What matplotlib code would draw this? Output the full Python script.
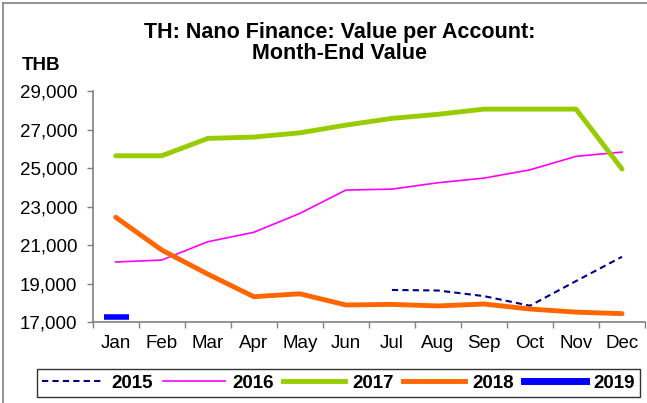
import matplotlib.pyplot as plt
from matplotlib.lines import Line2D

plt.rcParams['font.family'] = ['Liberation Sans', 'DejaVu Sans']

months = ['Jan', 'Feb', 'Mar', 'Apr', 'May', 'Jun', 'Jul', 'Aug', 'Sep', 'Oct', 'Nov', 'Dec']

# month-end value per account, THB (None = no data)
v2015 = [None, None, None, None, None, None, 18680, 18650, 18360, 17860, 19140, 20400]
v2016 = [20130, 20230, 21180, 21670, 22650, 23860, 23910, 24240, 24480, 24910, 25610, 25830]
v2017 = [25640, 25640, 26540, 26610, 26830, 27230, 27580, 27790, 28060, 28060, 28060, 24950]
v2018 = [22450, 20750, 19500, 18330, 18480, 17900, 17930, 17850, 17950, 17690, 17530, 17450]
v2019 = [17290]

yticks = [17000, 19000, 21000, 23000, 25000, 27000, 29000]

fig = plt.figure(figsize=(6.47, 4.03), dpi=100)
ax = fig.add_axes([0.1433, 0.2002, 0.8537, 0.574])

x = list(range(12))
ax.plot(x, [float('nan') if v is None else v for v in v2015], color='#000080',
        lw=1.5, ls=(0, (3, 2)), label='2015')
ax.plot(x, v2016, color='#FF00FF', lw=1.2, label='2016')
ax.plot(x, v2017, color='#99CC00', lw=3.5, label='2017', solid_capstyle='round')
ax.plot(x, v2018, color='#FF6600', lw=3.5, label='2018', solid_capstyle='round')
ax.plot(x[:1], v2019, color='#0000FF', lw=4.5, marker='_', ms=18, mew=4, ls='none')

ax.set_xlim(-0.5, 11.5)
ax.set_ylim(17000, 29000)
ax.set_xticks(x)
ax.set_xticklabels(months, fontsize=13.5)
ax.set_xticks([i - 0.5 for i in range(13)], minor=True)
ax.tick_params(axis='x', which='major', length=0, pad=9)
ax.tick_params(axis='x', which='minor', length=4, color='#808080', width=1)
ax.set_yticks(yticks)
ax.set_yticklabels([f'{v:,}' for v in yticks], fontsize=13.5)
ax.tick_params(axis='y', length=4, color='#808080', width=1, pad=7)

for s in ['top', 'right']:
    ax.spines[s].set_visible(False)
for s in ['left', 'bottom']:
    ax.spines[s].set_color('#808080')
    ax.spines[s].set_linewidth(1.2)

fig.text(0.5255, 1 - 43 / 403, 'TH: Nano Finance: Value per Account:\nMonth-End Value',
         ha='center', va='center', fontsize=15.5, fontweight='bold', linespacing=0.95)
fig.text(0.034, 1 - 65 / 403, 'THB', ha='left', va='center', fontsize=13.5, fontweight='bold')

handles = [
    Line2D([], [], color='#000080', lw=1.5, ls=(0, (3, 2))),
    Line2D([], [], color='#FF00FF', lw=1.2),
    Line2D([], [], color='#99CC00', lw=3.5),
    Line2D([], [], color='#FF6600', lw=3.5),
    Line2D([], [], color='#0000FF', lw=5),
]
leg = fig.legend(handles, ['2015', '2016', '2017', '2018', '2019'], loc='center',
                 bbox_to_anchor=(338.5 / 647, 1 - 383 / 403), ncol=5, frameon=True,
                 fancybox=False, edgecolor='black', handlelength=3.3, handletextpad=0.4,
                 columnspacing=0.5, borderpad=0.3, prop={'size': 13.5, 'weight': 'bold'})
leg.get_frame().set_linewidth(1)

# outer chart frame (left and top edges visible)
fig.add_artist(Line2D([3 / 647, 3 / 647], [0, 1 - 3 / 403], color='#808080', lw=1.2))
fig.add_artist(Line2D([3 / 647, 1], [1 - 3 / 403, 1 - 3 / 403], color='#808080', lw=1.2))

fig.savefig('out.png', dpi=100)
